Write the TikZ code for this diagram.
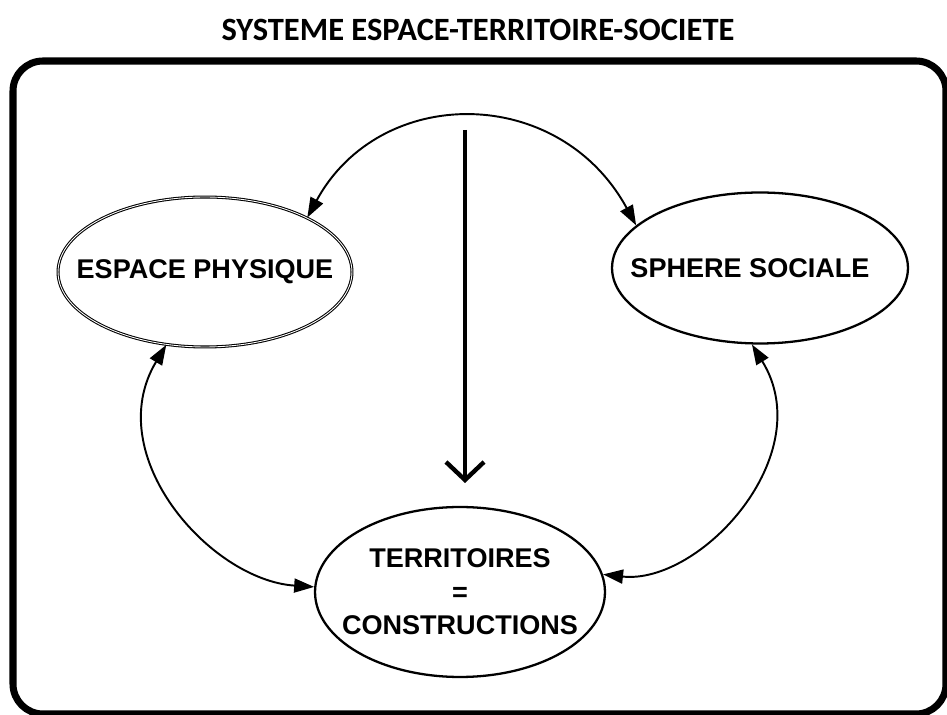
\documentclass[tikz,border=0pt]{standalone}
\usepackage{fontspec}
\setmainfont{Liberation Sans}
\newfontfamily\titlefont{Carlito}
\usetikzlibrary{arrows.meta,shapes.geometric}

\begin{document}
\begin{tikzpicture}[x=0.02cm, y=-0.02cm,
    blob/.style={ellipse, draw, line width=1.3pt, inner sep=0pt},
    txt/.style={font=\fontsize{15.4}{19}\selectfont\bfseries, align=center},
    link/.style={line width=1.1pt, {Triangle[length=4mm,width=2.8mm]}-{Triangle[length=4mm,width=2.8mm]}}]
      \useasboundingbox (0,0) rectangle (947,715);
      \draw[line width=4pt, rounded corners=0.6cm] (13,61) rectangle (946,714);
      \node[font=\titlefont\bfseries\fontsize{18.5}{18.5}\selectfont] (title) at (478,30) {SYSTEME ESPACE-TERRITOIRE-SOCIETE};
      \node[blob, double, line width=0.6pt, double distance=0.5pt, minimum width=5.88cm, minimum height=3cm,
            label={[txt]center:ESPACE PHYSIQUE}] (phys) at (205,272) {};
      \node[blob, minimum width=5.92cm, minimum height=3.02cm,
            label={[txt, xshift=-0.2cm]center:SPHERE SOCIALE}] (soc) at (760,268) {};
      \node[blob, minimum width=5.8cm, minimum height=3.4cm,
            label={[txt]center:TERRITOIRES\\=\\CONSTRUCTIONS}] (terr) at (460,592) {};
      \coordinate (vtop) at (465,130);
      \coordinate (vend) at (465,483);
      \draw[line width=2.5pt, -{Straight Barb[length=3.6mm,width=7.6mm]}] (vtop) -- (vend);
      \draw[link] (phys.28) .. controls (380,84) and (559,84) .. (soc.161);
      \draw[link] (phys.242) .. controls (100,455) and (210,580) .. (terr.178);
      \draw[link] (soc.264) .. controls (820,455) and (700,585) .. (terr.7);
    \end{tikzpicture}
\end{document}
